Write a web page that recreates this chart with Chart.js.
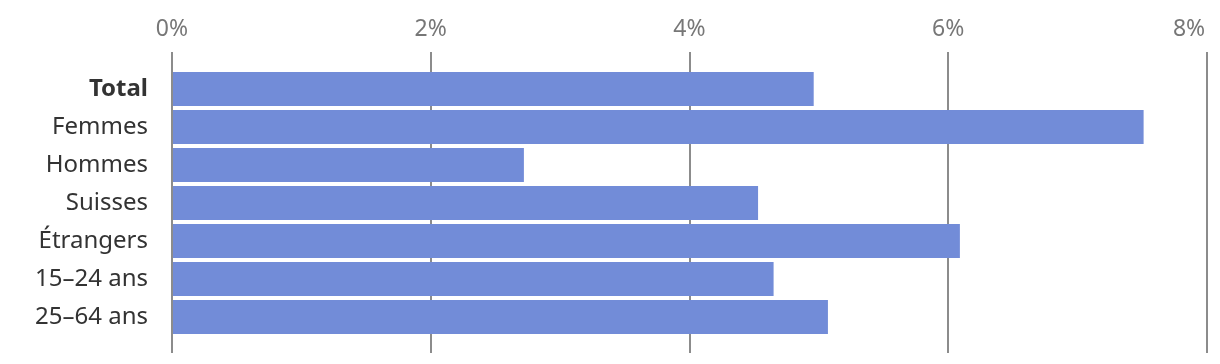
<!DOCTYPE html>
<html lang="fr">
<head>
<meta charset="utf-8">
<title>Taux</title>
<script src="https://cdn.jsdelivr.net/npm/chart.js@4/dist/chart.umd.min.js"></script>
<style>
  html, body { margin: 0; padding: 0; background: #fff; overflow: hidden; }
  #wrap { position: relative; width: 1220px; height: 364px; }
</style>
</head>
<body>
<div id="wrap"><canvas id="chart"></canvas></div>
<script>
  // catégories et valeurs (en %)
  const categories = ['Total', 'Femmes', 'Hommes', 'Suisses', 'Étrangers', '15–24 ans', '25–64 ans'];
  const values = [4.96, 7.51, 2.72, 4.53, 6.09, 4.65, 5.07];
  const xTicks = [0, 2, 4, 6, 8];

  const BAR = '#728cd8';
  const GRID = '#8c8c8c';
  const FONT = "'Noto Sans', sans-serif";

  function tickLabel(v) {
    // le dernier libellé est décalé vers la gauche pour rester dans le cadre
    return v === 8 ? v + '%      ' : v + '%';
  }

  const xGrid = { color: GRID, lineWidth: 2, drawTicks: true };

  new Chart(document.getElementById('chart'), {
    type: 'bar',
    data: {
      labels: categories,
      datasets: [{
        data: values,
        backgroundColor: BAR,
        borderWidth: 0,
        barPercentage: 0.895,
        categoryPercentage: 1
      }]
    },
    options: {
      indexAxis: 'y',
      responsive: true,
      maintainAspectRatio: false,
      animation: false,
      layout: { padding: { top: 0, right: 0, bottom: 11, left: 0 } },
      plugins: {
        legend: { display: false },
        tooltip: { enabled: false }
      },
      scales: {
        x: {
          position: 'top',
          min: 0,
          max: 8,
          afterBuildTicks: s => { s.ticks = xTicks.map(v => ({ value: v })); },
          afterFit: s => { s.height = 70; s.paddingRight = 13; s.paddingLeft = 0; },
          grid: Object.assign({ tickLength: 18 }, xGrid),
          border: { display: false },
          ticks: {
            callback: tickLabel,
            color: '#777',
            font: { family: FONT, size: 23 },
            padding: 9,
            maxRotation: 0
          }
        },
        x2: {
          position: 'bottom',
          min: 0,
          max: 8,
          afterBuildTicks: s => { s.ticks = xTicks.map(v => ({ value: v })); },
          afterFit: s => { s.height = 17; s.paddingRight = 13; s.paddingLeft = 0; },
          grid: Object.assign({ tickLength: 17, drawOnChartArea: false }, xGrid),
          border: { display: false },
          ticks: { display: false }
        },
        y: {
          grid: { display: false, drawTicks: false },
          border: { display: false },
          afterFit: s => { s.width = 172; s.paddingTop = 0; s.paddingBottom = 0; },
          ticks: {
            color: '#333',
            padding: 24,
            font: ctx => ({
              family: FONT,
              size: 24,
              weight: ctx.index === 0 ? 'bold' : 'normal'
            })
          }
        }
      }
    }
  });
</script>
</body>
</html>
